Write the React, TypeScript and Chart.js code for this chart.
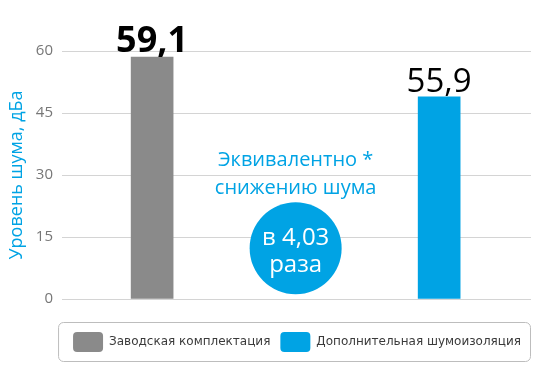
import React, { useEffect, useRef } from 'react';
import { Chart, registerables } from 'chart.js';

Chart.register(...registerables);

const categories = ['Заводская комплектация', 'Дополнительная шумоизоляция'];
const categoryPositions = [0, 1];
const noiseLevels = [58.5, 48.9];
const valueLabels = ['59,1', '55,9'];
const valueLabelBold = [true, false];
const valueLabelSizes = [36, 33];
const barColors = ['#8a8a8a', '#00a3e4'];
const yAxisTitle = 'Уровень шума, дБа';
const noteLines = ['Эквивалентно *', 'снижению шума'];
const badgeLines = ['в 4,03', 'раза'];

const BLUE = '#00a3e4';
const FONT = '"Open Sans", "Noto Sans", sans-serif';

const labelsPlugin = {
  id: 'valueLabels',
  afterDatasetsDraw(chart: any) {
    const ctx = chart.ctx;
    const xs = chart.scales.x;
    const ys = chart.scales.y;
    ctx.save();
    chart.data.datasets.forEach((_: any, i: number) => {
      const meta = chart.getDatasetMeta(i);
      const bar = meta.data[0];
      if (!bar) return;
      ctx.fillStyle = '#000';
      ctx.textAlign = 'center';
      ctx.textBaseline = 'alphabetic';
      ctx.font = `${valueLabelBold[i] ? 'bold ' : ''}${valueLabelSizes[i]}px ${FONT}`;
      ctx.fillText(valueLabels[i], bar.x, bar.y - 5);
    });
    const cx = xs.getPixelForValue(0.5);
    ctx.fillStyle = BLUE;
    ctx.font = `20px ${FONT}`;
    ctx.textBaseline = 'middle';
    ctx.fillText(noteLines[0], cx, ys.getPixelForValue(33.6));
    ctx.fillText(noteLines[1], cx, ys.getPixelForValue(26.9));
    const cy = ys.getPixelForValue(12.3);
    ctx.beginPath();
    ctx.arc(cx, cy, 46, 0, Math.PI * 2);
    ctx.fillStyle = BLUE;
    ctx.fill();
    ctx.fillStyle = '#fff';
    ctx.font = `24px ${FONT}`;
    ctx.fillText(badgeLines[0], cx, cy - 10);
    ctx.fillText(badgeLines[1], cx, cy + 17);
    ctx.restore();
  },
  afterDraw(chart: any) {
    const legend = chart.legend;
    if (!legend || !legend.legendHitBoxes || !legend.legendHitBoxes.length) return;
    const ctx = chart.ctx;
    const left = legend.legendHitBoxes[0].left - 14.5;
    const top = legend.top + 0.5;
    const right = legend.right - 0.5;
    const bottom = legend.bottom - 0.5;
    ctx.save();
    ctx.strokeStyle = '#bdbdbd';
    ctx.lineWidth = 1;
    ctx.beginPath();
    (ctx as any).roundRect(left, top, right - left, bottom - top, 5);
    ctx.stroke();
    ctx.restore();
  },
};

export default function App() {
  const ref = useRef<HTMLCanvasElement>(null);
  useEffect(() => {
    if (!ref.current) return;
    const chart = new Chart(ref.current, {
      type: 'bar',
      data: {
        datasets: categories.map((name, i) => ({
          label: name,
          data: [{ x: categoryPositions[i], y: noiseLevels[i] }],
          backgroundColor: barColors[i],
          borderWidth: 0,
          barThickness: 42,
          grouped: false,
        })),
      },
      options: {
        animation: false,
        responsive: true,
        maintainAspectRatio: false,
        layout: { padding: { top: 43, right: 1, bottom: 10, left: 0 } },
        plugins: {
          tooltip: { enabled: false },
          legend: {
            position: 'bottom',
            align: 'end',
            labels: {
              boxWidth: 30,
              boxHeight: 20,
              useBorderRadius: true,
              borderRadius: 4,
              padding: 10,
              color: '#3a3a3a',
              font: { family: '"DejaVu Sans", sans-serif', size: 12 },
            },
          },
        },
        scales: {
          x: {
            type: 'linear',
            offset: false,
            min: -0.314,
            max: 1.32,
            ticks: { display: false },
            grid: { display: false, drawTicks: false, offset: false },
            border: { display: false },
            afterFit: (s: any) => {
              s.height = 23;
            },
          },
          y: {
            min: 0,
            max: 60,
            ticks: {
              stepSize: 15,
              color: '#777',
              padding: 9,
              font: { family: FONT, size: 15 },
            },
            grid: { color: '#d4d4d4', drawTicks: false },
            border: { display: false },
            title: {
              display: true,
              text: yAxisTitle,
              color: BLUE,
              padding: 0,
              font: { family: FONT, size: 18, lineHeight: 1 },
            },
            afterFit: (s: any) => {
              s.width = 54;
            },
          },
        },
      } as any,
      plugins: [labelsPlugin],
    });
    return () => chart.destroy();
  }, []);
  return (
    <div style={{ width: 524, height: 364 }}>
      <canvas ref={ref} />
    </div>
  );
}
